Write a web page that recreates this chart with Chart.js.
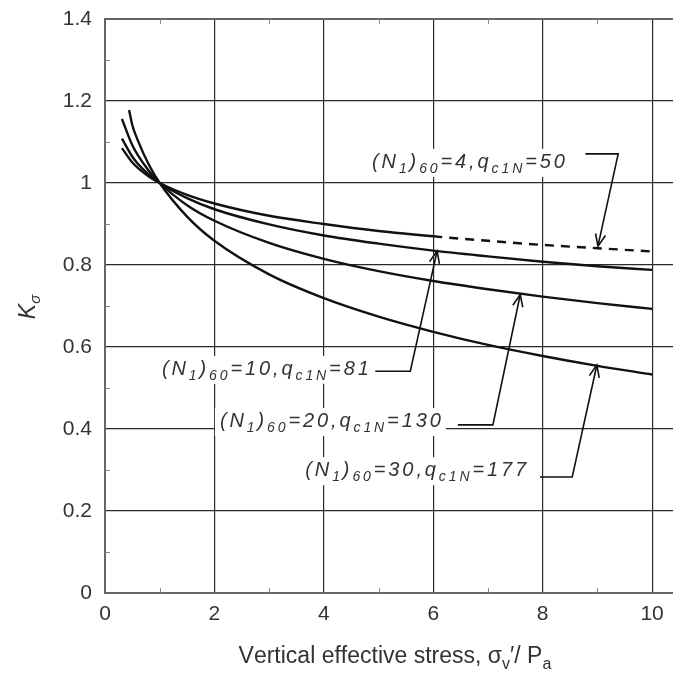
<!DOCTYPE html>
<html lang="en">
<head>
<meta charset="UTF-8">
<title>K sigma vs vertical effective stress</title>
<script src="https://cdn.jsdelivr.net/npm/chart.js"></script>
<style>
    html, body { margin: 0; padding: 0; background: #fff; overflow: hidden; }
    .quadro { width: 673px; height: 675px; overflow: hidden; }
</style>
</head>
<body>
<div class="quadro">
    <canvas id="grafico" width="676" height="675"></canvas>
</div>

<script>
    // valores
    const tensao = [0.31, 0.5, 0.6, 0.8, 1, 1.5, 2, 3, 4, 5, 6, 7, 8, 9, 10];
    const tensao30 = [0.44, 0.5, 0.6, 0.8, 1, 1.5, 2, 3, 4, 5, 6, 7, 8, 9, 10];
    const ks_n4 = [1.085, 1.050, 1.037, 1.016, 1, 0.971, 0.950, 0.920, 0.900, 0.883, 0.870, 0.859, 0.849, 0.841, 0.833];
    const ks_n10 = [1.108, 1.064, 1.047, 1.021, 1, 0.963, 0.936, 0.899, 0.872, 0.852, 0.835, 0.821, 0.808, 0.797, 0.788];
    const ks_n20 = [1.156, 1.092, 1.068, 1.030, 1, 0.946, 0.908, 0.854, 0.815, 0.785, 0.761, 0.741, 0.723, 0.707, 0.693];
    const ks_n30 = [1.178, 1.141, 1.104, 1.045, 1, 0.918, 0.859, 0.777, 0.719, 0.674, 0.637, 0.605, 0.578, 0.554, 0.533];

    const ticksX = [0, 2, 4, 6, 8, 10];
    const ticksY = [0, 0.2, 0.4, 0.6, 0.8, 1, 1.2, 1.4];
    const menoresX = [1, 3, 5, 7, 9];
    const menoresY = [0.1, 0.3, 0.5, 0.7, 0.9, 1.1, 1.3];

    // rotulos: [texto, subscrito?]
    const notas = [
        { partes: [['(N', 0], ['1', 1], [')', 0], ['60', 1], ['=4,q', 0], ['c1N', 1], ['=50', 0]],
          texto: [4.88, 1.037], linha: [[8.78, 1.071], [9.38, 1.071], [9.01, 0.846]] },
        { partes: [['(N', 0], ['1', 1], [')', 0], ['60', 1], ['=10,q', 0], ['c1N', 1], ['=81', 0]],
          texto: [1.04, 0.532], linha: [[4.94, 0.541], [5.58, 0.541], [6.07, 0.834]] },
        { partes: [['(N', 0], ['1', 1], [')', 0], ['60', 1], ['=20,q', 0], ['c1N', 1], ['=130', 0]],
          texto: [2.10, 0.405], linha: [[6.45, 0.410], [7.09, 0.410], [7.59, 0.728]] },
        { partes: [['(N', 0], ['1', 1], [')', 0], ['60', 1], ['=30,q', 0], ['c1N', 1], ['=177', 0]],
          texto: [3.66, 0.285], linha: [[7.95, 0.283], [8.54, 0.283], [8.99, 0.556]] }
    ];

    const FONTE = "'Liberation Sans', Arial, sans-serif";

    function pontos(xs, ys) {
        return xs.map((x, i) => ({ x: x, y: ys[i] }));
    }

    function curva(dados, extra) {
        return Object.assign({
            data: dados,
            borderColor: '#111',
            borderWidth: 2.4,
            pointRadius: 0,
            fill: false,
            cubicInterpolationMode: 'monotone'
        }, extra || {});
    }

    // escreve texto com subscritos, letra por letra (espacamento largo como no original)
    function escreve(ctx, partes, x, y, tam, tamSub, desloc, espaco, italico, medir) {
        let px = x;
        partes.forEach(p => {
            const sub = p[1];
            ctx.font = (italico ? 'italic ' : '') + (sub ? tamSub : tam) + 'px ' + FONTE;
            for (const c of p[0]) {
                if (!medir) ctx.fillText(c, px, sub ? y + desloc : y);
                px += ctx.measureText(c).width + espaco;
            }
        });
        return px - x - espaco;
    }

    function seta(ctx, x0, y0, x1, y1) {
        const ang = Math.atan2(y1 - y0, x1 - x0);
        const L = 13, a = 0.4;
        ctx.beginPath();
        ctx.moveTo(x1 - L * Math.cos(ang - a), y1 - L * Math.sin(ang - a));
        ctx.lineTo(x1, y1);
        ctx.lineTo(x1 - L * Math.cos(ang + a), y1 - L * Math.sin(ang + a));
        ctx.stroke();
    }

    const extras = {
        id: 'extras',
        afterDraw(chart) {
            const ctx = chart.ctx;
            const sx = chart.scales.x, sy = chart.scales.y;
            const area = chart.chartArea;
            ctx.save();

            // moldura superior
            ctx.strokeStyle = '#666';
            ctx.lineWidth = 2;
            ctx.beginPath();
            ctx.moveTo(area.left, area.top);
            ctx.lineTo(area.right, area.top);
            ctx.stroke();

            // tracinhos menores
            ctx.strokeStyle = '#888';
            ctx.lineWidth = 1;
            menoresX.forEach(v => {
                const p = Math.round(sx.getPixelForValue(v)) + 0.5;
                ctx.beginPath();
                ctx.moveTo(p, area.bottom); ctx.lineTo(p, area.bottom - 5);
                ctx.moveTo(p, area.top); ctx.lineTo(p, area.top + 5);
                ctx.stroke();
            });
            menoresY.forEach(v => {
                const p = Math.round(sy.getPixelForValue(v)) + 0.5;
                ctx.beginPath();
                ctx.moveTo(area.left, p); ctx.lineTo(area.left + 5, p);
                ctx.stroke();
            });

            // rotulos com setas
            ctx.textBaseline = 'alphabetic';
            ctx.textAlign = 'left';
            ctx.strokeStyle = '#111';
            notas.forEach(n => {
                const tx = sx.getPixelForValue(n.texto[0]);
                const ty = sy.getPixelForValue(n.texto[1]);
                const larg = escreve(ctx, n.partes, tx, ty, 20, 14, 5, 2.9, true, true);
                ctx.fillStyle = '#fff';
                ctx.fillRect(tx - 5, ty - 19, larg + 10, 28);
                ctx.fillStyle = '#333';
                escreve(ctx, n.partes, tx, ty, 20, 14, 5, 2.9, true, false);

                const pts = n.linha.map(p => [sx.getPixelForValue(p[0]), sy.getPixelForValue(p[1])]);
                ctx.lineWidth = 1.6;
                ctx.beginPath();
                ctx.moveTo(pts[0][0], pts[0][1]);
                for (let i = 1; i < pts.length; i++) ctx.lineTo(pts[i][0], pts[i][1]);
                ctx.stroke();
                const k = pts.length - 1;
                seta(ctx, pts[k - 1][0], pts[k - 1][1], pts[k][0], pts[k][1]);
            });

            // titulo do eixo x
            const tituloX = [['Vertical effective stress, \u03c3', 0], ['v', 1], ['\u2032/ P', 0], ['a', 1]];
            const lx = escreve(ctx, tituloX, 0, 0, 23, 16, 6, 0, false, true);
            const cx = sx.getPixelForValue(5.3);
            ctx.fillStyle = '#333';
            escreve(ctx, tituloX, cx - lx / 2, area.bottom + 70, 23, 16, 6, 0, false, false);

            // titulo do eixo y
            ctx.translate(35, (area.top + area.bottom) / 2 + 1);
            ctx.rotate(-Math.PI / 2);
            const tituloY = [['K', 0], ['\u03c3', 1]];
            const ly = escreve(ctx, tituloY, 0, 0, 23, 15, 5, 0, true, true);
            escreve(ctx, tituloY, -ly / 2, 0, 23, 15, 5, 0, true, false);

            ctx.restore();
        }
    };

    const config = {
        type: 'line',
        data: {
            datasets: [
                curva(pontos(tensao, ks_n4), {
                    label: '(N1)60=4',
                    segment: { borderDash: c => c.p0.parsed.x >= 6 ? [9, 7] : undefined }
                }),
                curva(pontos(tensao, ks_n10), { label: '(N1)60=10' }),
                curva(pontos(tensao, ks_n20), { label: '(N1)60=20' }),
                curva(pontos(tensao30, ks_n30), { label: '(N1)60=30' })
            ]
        },
        options: {
            responsive: false,
            animation: false,
            layout: { padding: { top: 19, right: 2, left: 0, bottom: 0 } },
            plugins: {
                legend: { display: false },
                tooltip: { enabled: false }
            },
            scales: {
                x: {
                    type: 'linear',
                    min: 0,
                    max: 10.4,
                    afterBuildTicks: s => { s.ticks = ticksX.map(v => ({ value: v })); },
                    afterFit: s => { s.height = 82; s.paddingLeft = 0; s.paddingRight = 0; },
                    grid: { color: '#2a2a2a', lineWidth: 1.2, drawTicks: false },
                    border: { display: true, color: '#666', width: 2 },
                    ticks: {
                        padding: 9,
                        color: '#333',
                        maxRotation: 0,
                        font: { family: FONTE, size: 21 }
                    }
                },
                y: {
                    type: 'linear',
                    min: 0,
                    max: 1.4,
                    afterBuildTicks: s => { s.ticks = ticksY.map(v => ({ value: v })); },
                    afterFit: s => { s.width = 105; s.paddingTop = 0; s.paddingBottom = 0; },
                    grid: { color: '#2a2a2a', lineWidth: 1.2, drawTicks: false },
                    border: { display: true, color: '#666', width: 2 },
                    ticks: {
                        padding: 13,
                        color: '#333',
                        font: { family: FONTE, size: 21 },
                        callback: v => String(Math.round(v * 10) / 10)
                    }
                }
            }
        },
        plugins: [extras]
    };

    new Chart(document.getElementById('grafico'), config);
</script>
</body>
</html>
